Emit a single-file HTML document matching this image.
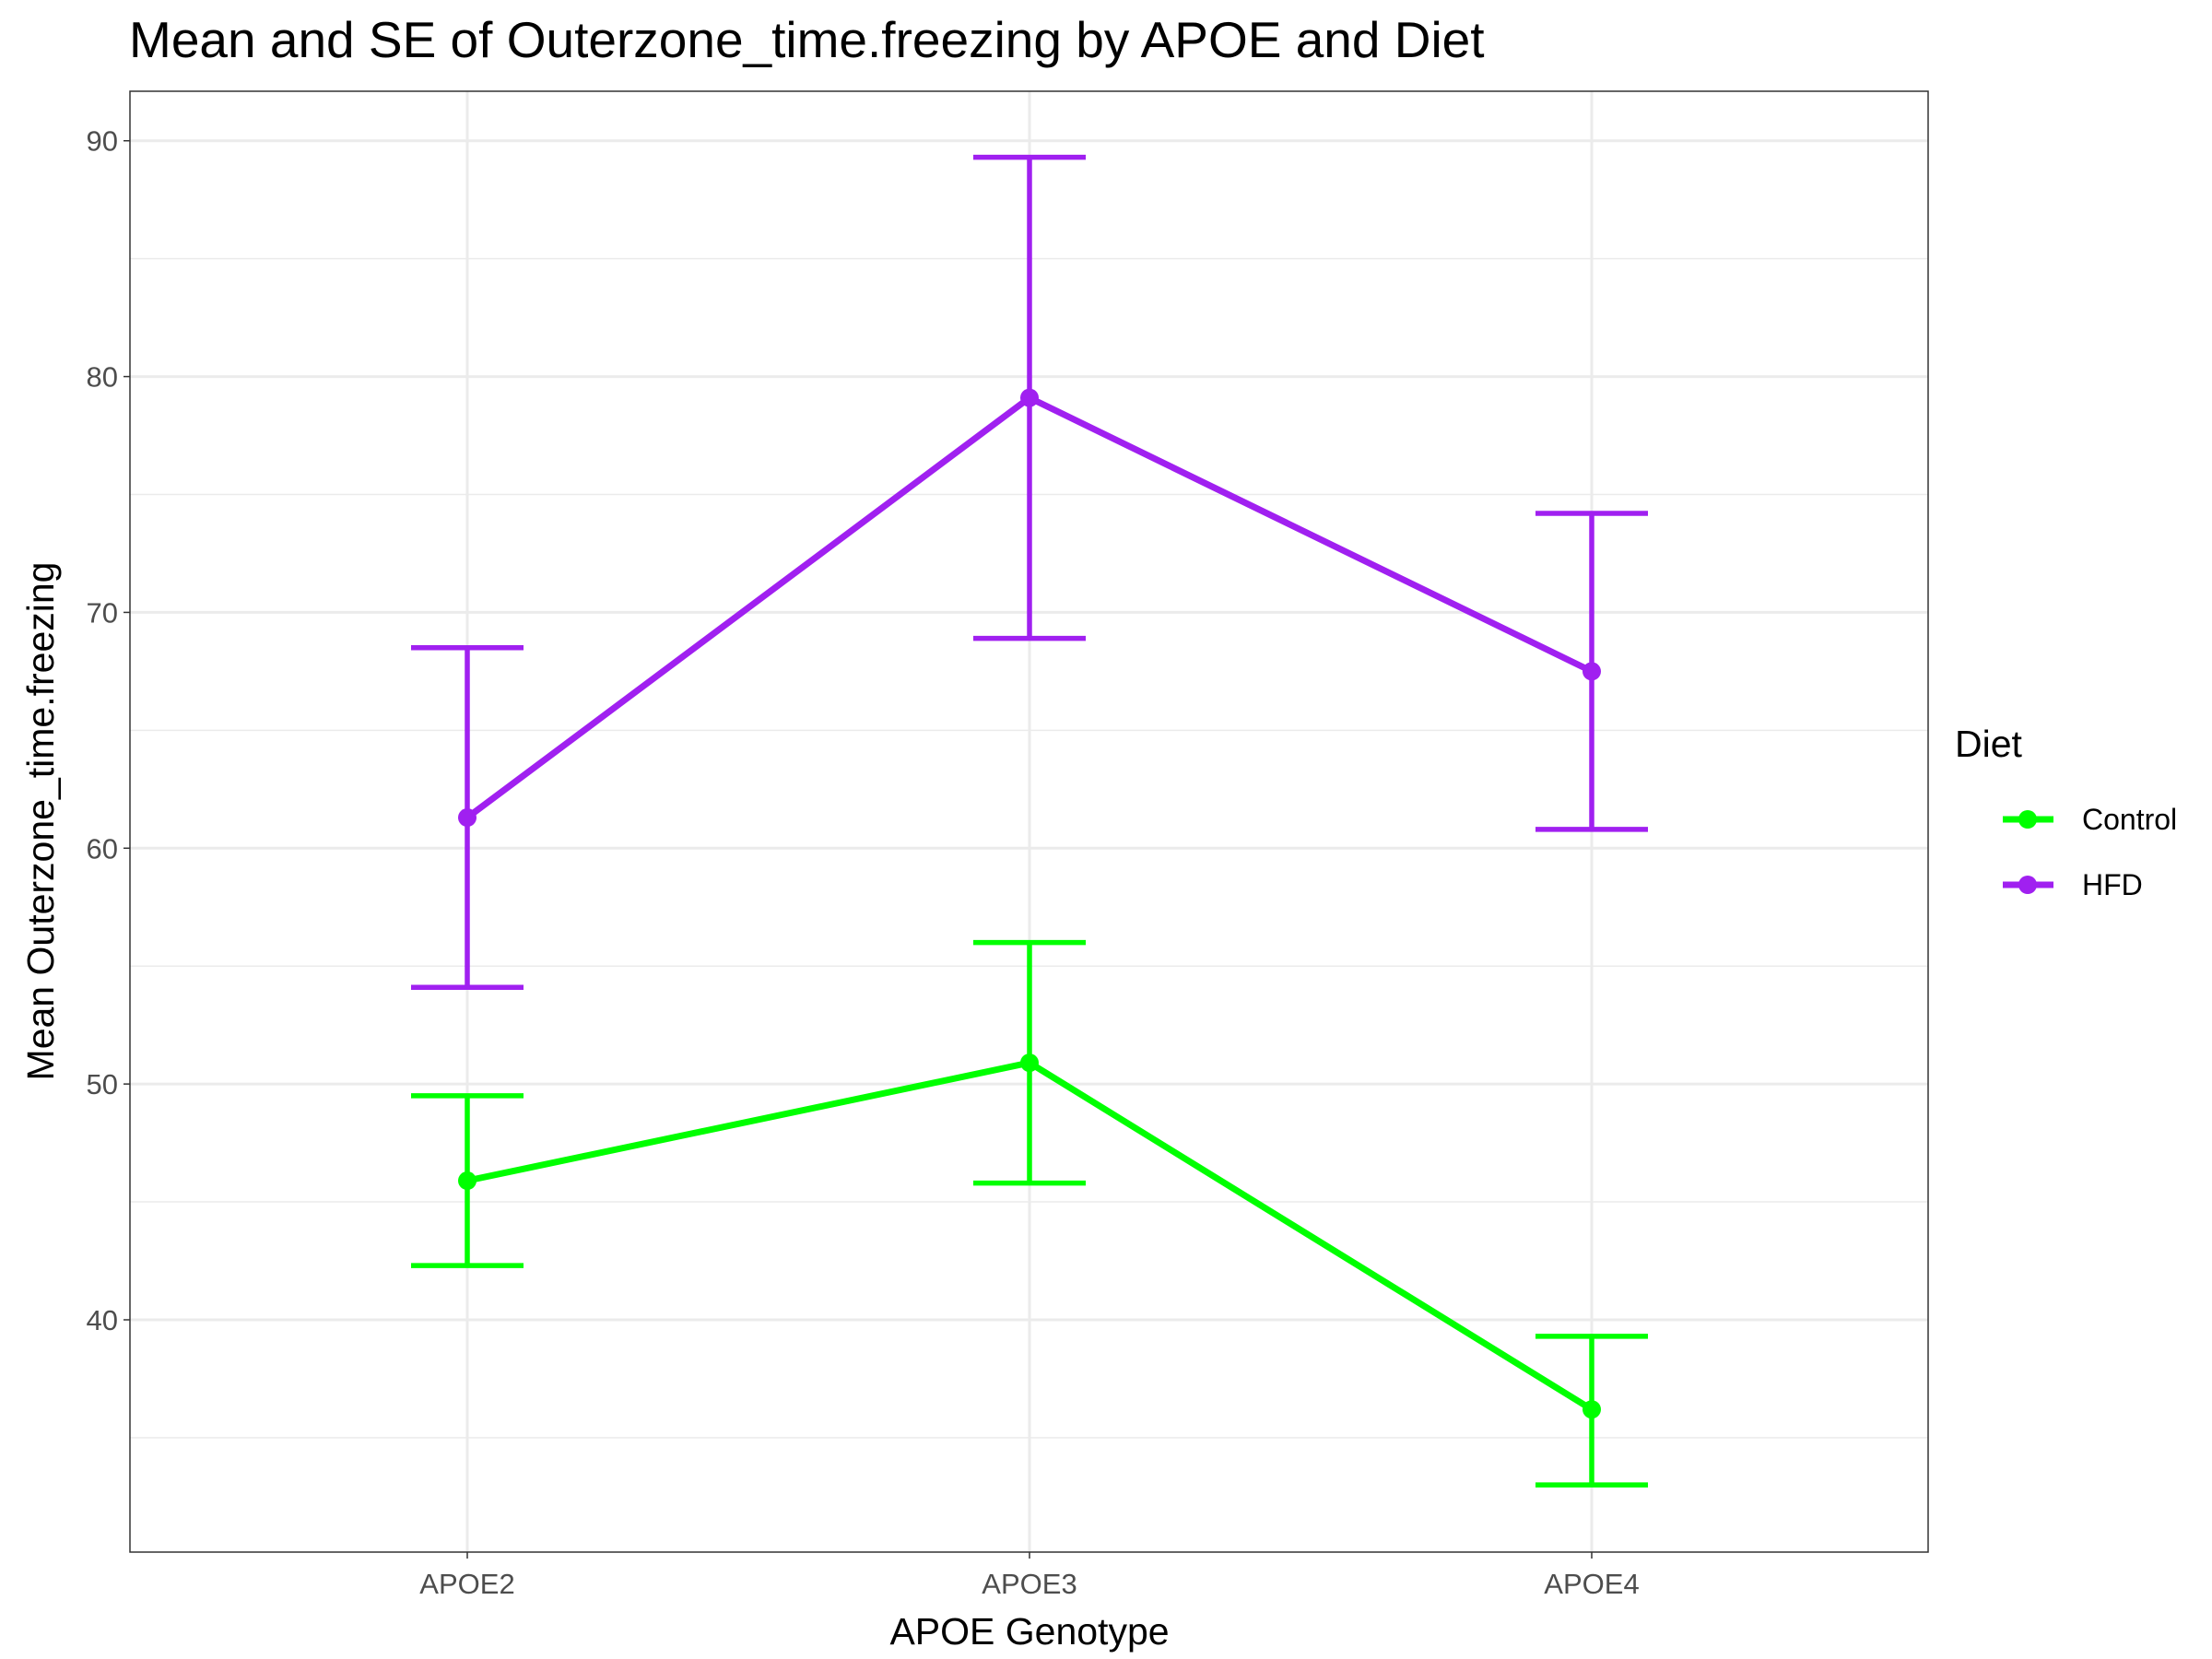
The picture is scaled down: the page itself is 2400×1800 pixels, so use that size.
<!DOCTYPE html>
<html><head><meta charset="utf-8"><style>
html,body{margin:0;padding:0;background:#fff;}
svg{display:block;font-family:"Liberation Sans",Arial,sans-serif;}
</style></head><body>
<svg id="chart" width="2400" height="1800" viewBox="0 0 2400 1800">
<text x="140" y="62" font-size="55" fill="#000">Mean and SE of Outerzone_time.freezing by APOE and Diet</text>
<g id="panel"></g>
<text x="1117" y="1784" font-size="41" text-anchor="middle" fill="#000">APOE Genotype</text>
<text transform="translate(58,891) rotate(-90)" font-size="41" text-anchor="middle" fill="#000">Mean Outerzone_time.freezing</text>
<g>
<text x="2121" y="821" font-size="41" fill="#000">Diet</text>
<g>
<line x1="2173" y1="889" x2="2228" y2="889" stroke="#00FF00" stroke-width="7"/>
<circle cx="2200" cy="889" r="10" fill="#00FF00"/>
<text x="2259" y="900" font-size="32" fill="#000">Control</text></g>
<g>
<line x1="2173" y1="960" x2="2228" y2="960" stroke="#A020F0" stroke-width="7"/>
<circle cx="2200" cy="960" r="10" fill="#A020F0"/>
<text x="2259" y="971" font-size="32" fill="#000">HFD</text></g>
</g>
</svg>
<script>
const categories = ["APOE2","APOE3","APOE4"];
const controlMean = [45.9, 50.9, 36.2];
const controlLow = [42.3, 45.8, 33.0];
const controlHigh = [49.5, 56.0, 39.3];
const hfdMean = [61.3, 79.1, 67.5];
const hfdLow = [54.1, 68.9, 60.8];
const hfdHigh = [68.5, 89.3, 74.2];
const yTicks = [40, 50, 60, 70, 80, 90];
const yMinor = [35, 45, 55, 65, 75, 85];

const L=141, R=2092, T=99, B=1684;
const yMin=30.15, yMax=92.1;
const y = v => B - (v - yMin) / (yMax - yMin) * (B - T);
const x = i => 507 + i * 610;
const NS="http://www.w3.org/2000/svg";
const panel=document.getElementById('panel');
function mk(tag, attrs, parent){const e=document.createElementNS(NS,tag);for(const k in attrs)e.setAttribute(k,attrs[k]);(parent||panel).appendChild(e);return e;}

const bg=mk('rect',{x:L,y:T,width:R-L,height:B-T,fill:'#fff'});


yMinor.forEach(v=>{const g=mk('line',{x1:L,x2:R,y1:y(v),y2:y(v),stroke:'#ebebeb','stroke-width':1.5});

});
yTicks.forEach(v=>{const g=mk('line',{x1:L,x2:R,y1:y(v),y2:y(v),stroke:'#ebebeb','stroke-width':3});

});
categories.forEach((c,i)=>{const g=mk('line',{x1:x(i),x2:x(i),y1:T,y2:B,stroke:'#ebebeb','stroke-width':3});

});

function series(name,color,mean,lo,hi){
  const grp=mk('g',{});
  
  
  const pl=mk('polyline',{points:mean.map((v,i)=>x(i)+','+y(v)).join(' '),fill:'none',stroke:color,'stroke-width':7,'stroke-linejoin':'round'},grp);
  
  
  mean.forEach((v,i)=>{
    const eb=mk('path',{d:`M${x(i)-61},${y(lo[i])}H${x(i)+61}M${x(i)},${y(lo[i])}V${y(hi[i])}M${x(i)-61},${y(hi[i])}H${x(i)+61}`,stroke:color,'stroke-width':5.5,fill:'none'},grp);
    
    
    const p=mk('circle',{cx:x(i),cy:y(v),r:10,fill:color},grp);
    
    
  });
}
series('control','#00FF00',controlMean,controlLow,controlHigh);
series('hfd','#A020F0',hfdMean,hfdLow,hfdHigh);

const fr=mk('rect',{x:L,y:T,width:R-L,height:B-T,fill:'none',stroke:'#333','stroke-width':1.5});


yTicks.forEach(v=>{
  mk('line',{x1:L-7,x2:L,y1:y(v),y2:y(v),stroke:'#333','stroke-width':1.5});
  const t=mk('text',{x:L-13,y:y(v)+11,'font-size':31,'text-anchor':'end',fill:'#4d4d4d'});t.textContent=v;
  
  
});
categories.forEach((c,i)=>{
  mk('line',{x1:x(i),x2:x(i),y1:B,y2:B+7,stroke:'#333','stroke-width':1.5});
  const t=mk('text',{x:x(i),y:B+45,'font-size':31,'text-anchor':'middle',fill:'#4d4d4d'});t.textContent=c;
  
  
});
</script>
</body></html>
